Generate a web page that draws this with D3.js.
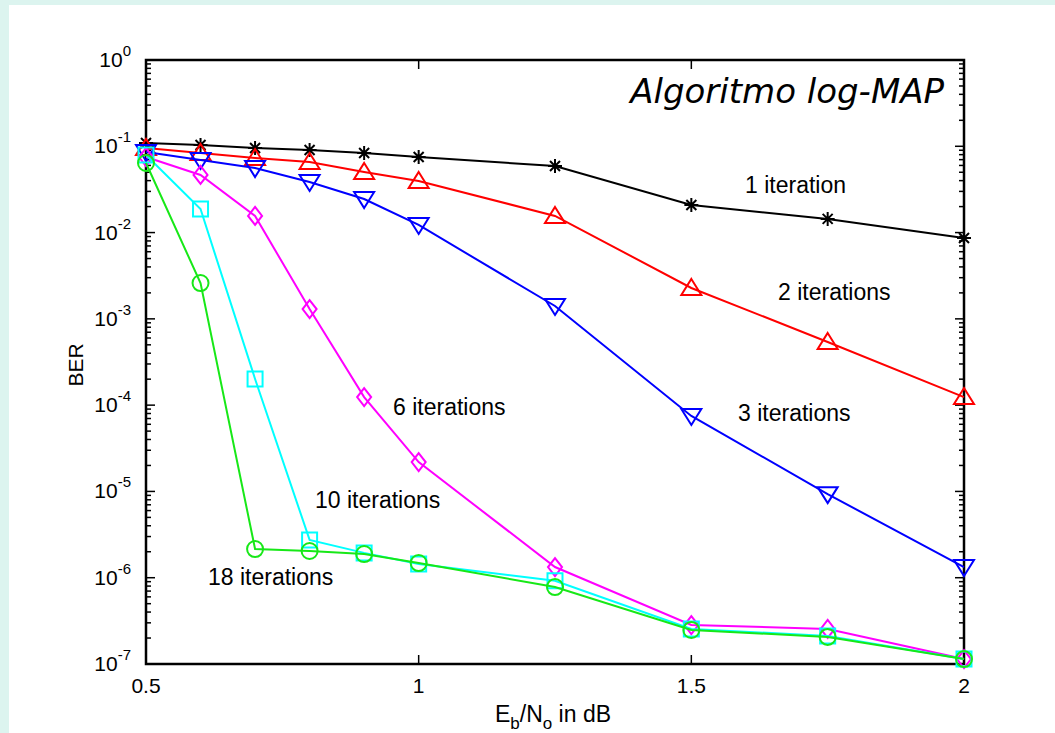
<!DOCTYPE html>
<html>
<head>
<meta charset="utf-8">
<script src="https://cdn.jsdelivr.net/npm/d3@7"></script>
<style>
  body { margin: 0; background: #dcf4ef; }
  svg text { font-family: "Liberation Sans", Arial, sans-serif; fill: #000; }
</style>
</head>
<body>
<script>
'use strict';

// Eb/No values (dB), shared by all curves
const ebno = [0.5, 0.6, 0.7, 0.8, 0.9, 1.0, 1.25, 1.5, 1.75, 2.0];

// BER, one array per number of iterations
const ber1 = [0.109, 0.1035, 0.0955, 0.0906, 0.0836, 0.0751, 0.0591, 0.0209, 0.0144, 0.00866];
const ber2 = [0.0955, 0.0836, 0.0731, 0.0657, 0.0504, 0.0396, 0.0156, 0.00228, 0.00054, 0.000124];
const ber3 = [0.0859, 0.0694, 0.056, 0.0386, 0.0245, 0.01225, 0.00141, 7.5e-5, 9.3e-6, 1.33e-6];
const ber6 = [0.0751, 0.0465, 0.0156, 0.0013, 1.24e-4, 2.19e-5, 1.33e-6, 2.83e-7, 2.55e-7, 1.14e-7];
const ber10 = [0.0793, 0.01876, 2.01e-4, 2.74e-6, 1.94e-6, 1.44e-6, 9.2e-7, 2.55e-7, 2.11e-7, 1.14e-7];
const ber18 = [0.064, 0.0026, 2.15e-6, 2.04e-6, 1.88e-6, 1.48e-6, 7.8e-7, 2.48e-7, 2.06e-7, 1.14e-7];

const seriesNames = ["1 iteration", "2 iterations", "3 iterations", "6 iterations", "10 iterations", "18 iterations"];
const xTicks = [0.5, 1, 1.5, 2];
const yDecades = [0, -1, -2, -3, -4, -5, -6, -7];

const m = { width: 1055, height: 733, left: 146, right: 964, top: 60, bottom: 664 };

const svg = d3.select('body')
  .append('svg')
  .attr('width', m.width)
  .attr('height', m.height);

// light frame and white panel
svg.append('rect').attr('width', m.width).attr('height', m.height).attr('fill', '#dcf4ef');
svg.append('rect').attr('x', 9).attr('y', 5).attr('width', m.width).attr('height', m.height).attr('fill', '#fff');

const xScale = d3.scaleLinear().domain([0.5, 2]).range([m.left, m.right]);
const yScale = d3.scaleLog().domain([1e-7, 1]).range([m.bottom, m.top]);

// ticks, drawn inward on all four sides like matlab
const axes = svg.append('g').attr('stroke', '#000');
const minorVals = [];
for (let e = -7; e < 0; e++) {
  for (let k = 2; k <= 9; k++) minorVals.push(k * Math.pow(10, e));
}
minorVals.forEach((v) => {
  const y = yScale(v);
  axes.append('line').attr('x1', m.left).attr('x2', m.left + 5).attr('y1', y).attr('y2', y).attr('stroke-width', 1.5);
  axes.append('line').attr('x1', m.right).attr('x2', m.right - 5).attr('y1', y).attr('y2', y).attr('stroke-width', 1.5);
});
yDecades.forEach((e) => {
  const y = yScale(Math.pow(10, e));
  axes.append('line').attr('x1', m.left).attr('x2', m.left + 9).attr('y1', y).attr('y2', y).attr('stroke-width', 1.5);
  axes.append('line').attr('x1', m.right).attr('x2', m.right - 9).attr('y1', y).attr('y2', y).attr('stroke-width', 1.5);
});
xTicks.forEach((v) => {
  const x = xScale(v);
  axes.append('line').attr('x1', x).attr('x2', x).attr('y1', m.bottom).attr('y2', m.bottom - 9).attr('stroke-width', 1.5);
  axes.append('line').attr('x1', x).attr('x2', x).attr('y1', m.top).attr('y2', m.top + 9).attr('stroke-width', 1.5);
});
axes.append('rect')
  .attr('x', m.left).attr('y', m.top)
  .attr('width', m.right - m.left).attr('height', m.bottom - m.top)
  .attr('fill', 'none').attr('stroke-width', 2.5);

// tick labels
xTicks.forEach((v) => {
  svg.append('text')
    .attr('x', xScale(v)).attr('y', 693)
    .attr('text-anchor', 'middle')
    .style('font-size', '21px')
    .text(v);
});
yDecades.forEach((e) => {
  const t = svg.append('text')
    .attr('x', 131).attr('y', yScale(Math.pow(10, e)) + 7)
    .attr('text-anchor', 'end')
    .style('font-size', '21px');
  t.append('tspan').text('10');
  t.append('tspan').attr('dy', -11).style('font-size', '15px').text(e === 0 ? '0' : '-' + (-e));
});

// axis labels
svg.append('text')
  .attr('transform', 'translate(83, 365)rotate(-90)')
  .attr('text-anchor', 'middle')
  .style('font-size', '21px')
  .text('BER');

const xl = svg.append('text')
  .attr('x', 553).attr('y', 722)
  .attr('text-anchor', 'middle')
  .style('font-size', '23px');
xl.append('tspan').text('E');
xl.append('tspan').attr('dy', 7).style('font-size', '17px').text('b');
xl.append('tspan').attr('dy', -7).text('/N');
xl.append('tspan').attr('dy', 7).style('font-size', '17px').text('o');
xl.append('tspan').attr('dy', -7).text(' in dB');

// title
svg.append('text')
  .attr('x', 944).attr('y', 103)
  .attr('text-anchor', 'end')
  .style('font-family', '"DejaVu Sans", Verdana, sans-serif')
  .style('font-style', 'italic')
  .style('font-size', '34px')
  .text('Algoritmo log-MAP');

// marker shapes
const markerPath = {
  star: 'M-7,0H7M0,-7V7M-5,-5L5,5M-5,5L5,-5',
  up: 'M0,-9L10,7H-10Z',
  down: 'M0,9L10,-7H-10Z',
  diamond: 'M0,-9L7,0L0,9L-7,0Z',
  square: 'M-7.5,-7.5H7.5V7.5H-7.5Z',
  circle: 'M8,0A8,8 0 1 1 -8,0A8,8 0 1 1 8,0Z'
};

const series = [
  { name: seriesNames[0], values: ber1, color: '#000000', marker: 'star' },
  { name: seriesNames[1], values: ber2, color: '#ff0000', marker: 'up' },
  { name: seriesNames[2], values: ber3, color: '#0000ff', marker: 'down' },
  { name: seriesNames[3], values: ber6, color: '#ff00ff', marker: 'diamond' },
  { name: seriesNames[4], values: ber10, color: '#00ffff', marker: 'square' },
  { name: seriesNames[5], values: ber18, color: '#17e817', marker: 'circle' }
];

const line = d3.line()
  .x((d) => xScale(d[0]))
  .y((d) => yScale(d[1]));

series.forEach((s) => {
  const pts = ebno.map((x, i) => [x, s.values[i]]);
  const g = svg.append('g');
  g.append('path')
    .datum(pts)
    .attr('d', line)
    .attr('fill', 'none')
    .attr('stroke', s.color)
    .attr('stroke-width', 2);
  g.selectAll('.mk').data(pts)
    .enter()
    .append('path')
    .attr('transform', (d) => 'translate(' + xScale(d[0]) + ',' + yScale(d[1]) + ')')
    .attr('d', markerPath[s.marker])
    .attr('fill', 'none')
    .attr('stroke', s.color)
    .attr('stroke-width', 2);
});

// curve labels
const labelPos = [[745, 193], [778, 300], [738, 421], [393, 415], [315, 508], [208, 585]];
labelPos.forEach((p, i) => {
  svg.append('text')
    .attr('x', p[0]).attr('y', p[1])
    .style('font-size', '23px')
    .text(seriesNames[i]);
});
</script>
</body>
</html>
